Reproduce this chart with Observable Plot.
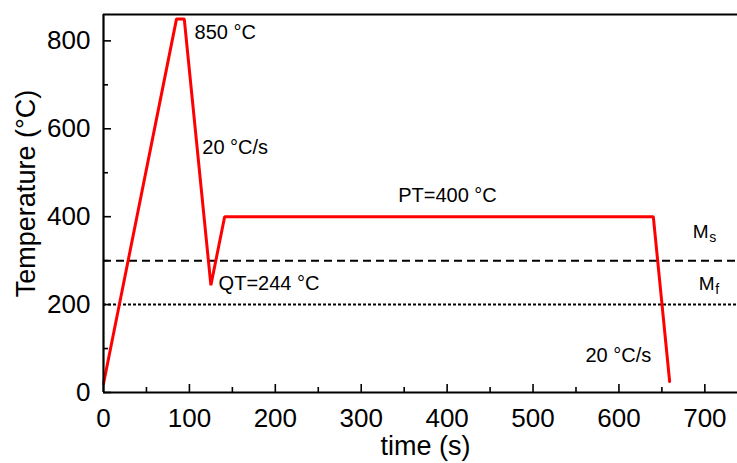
<!DOCTYPE html>
<html>
<head>
<meta charset="utf-8">
<script src="https://cdn.jsdelivr.net/npm/d3@7"></script>
<script src="https://cdn.jsdelivr.net/npm/@observablehq/plot@0.6"></script>
<style>
  html, body { margin: 0; padding: 0; background: #fff; }
</style>
</head>
<body>
<div id="chart"></div>
<script>
// Heat-treatment schedule: time (s) vs temperature (°C)
const time = [0, 85, 94, 125, 141, 640, 659];
const temp = [20, 850, 850, 244, 400, 400, 25];

// Martensite start / finish temperatures
const msTemp = 300;
const mfTemp = 200;

// Axis ticks
const xMajor = [0, 100, 200, 300, 400, 500, 600, 700];
const xMinor = [50, 150, 250, 350, 450, 550, 650];
const yMajor = [0, 200, 400, 600, 800];
const yMinor = [100, 300, 500, 700];

// Annotations
const noteText = ["850 °C", "20 °C/s", "PT=400 °C", "QT=244 °C", "20 °C/s"];
const noteTime = [106, 115, 343, 134, 561];
const noteTemp = [819, 558, 448, 248, 84];

const markLetter = ["M", "M"];
const markSub = ["s", "f"];
const markTime = [686, 693];
const markTemp = [366, 247];

const W = 737, H = 463;
const mL = 103, mR = 0, mT = 14, mB = 71;
const innerW = W - mL - mR, innerH = H - mT - mB;

const path = time.map((t, i) => ({t, T: temp[i]}));
const notes = noteText.map((s, i) => ({s, t: noteTime[i], T: noteTemp[i]}));
const mLabels = markLetter.map((m, i) => ({m, sub: markSub[i], t: markTime[i], T: markTemp[i]}));

const font = "Liberation Sans, Arial, sans-serif";

const chart = Plot.plot({
  width: W,
  height: H,
  marginLeft: mL,
  marginRight: mR,
  marginTop: mT,
  marginBottom: mB,
  style: {fontFamily: font, background: "#fff", color: "#000"},
  x: {domain: [0, 738], axis: null},
  y: {domain: [0, 860], axis: null},
  marks: [
    // Ms and Mf reference lines
    Plot.ruleY([msTemp], {stroke: "#000", strokeWidth: 2, strokeDasharray: "8,5"}),
    Plot.ruleY([mfTemp], {stroke: "#000", strokeWidth: 2, strokeDasharray: "3,2"}),
    // schedule curve
    Plot.line(path, {x: "t", y: "T", stroke: "#ff0000", strokeWidth: 3, strokeLinejoin: "miter"}),
    // inward ticks
    Plot.ruleX(xMajor, {x: d => d, insetTop: innerH - 8, stroke: "#000", strokeWidth: 1.6}),
    Plot.ruleX(xMinor, {x: d => d, insetTop: innerH - 5, stroke: "#000", strokeWidth: 1.6}),
    Plot.ruleY(yMajor, {y: d => d, insetRight: innerW - 8, stroke: "#000", strokeWidth: 1.6}),
    Plot.ruleY(yMinor, {y: d => d, insetRight: innerW - 5, stroke: "#000", strokeWidth: 1.6}),
    // frame: left, bottom, top
    Plot.ruleX([0], {stroke: "#000", strokeWidth: 2.2}),
    Plot.ruleY([0], {stroke: "#000", strokeWidth: 2.2}),
    Plot.ruleY([860], {stroke: "#000", strokeWidth: 2.2}),
    // tick labels
    Plot.text(xMajor, {x: d => d, frameAnchor: "bottom", lineAnchor: "top", dy: 16, fontSize: 26, fill: "#000", text: d => String(d)}),
    Plot.text(yMajor, {y: d => d, frameAnchor: "left", textAnchor: "end", dx: -13, fontSize: 26, fill: "#000", text: d => String(d)}),
    // axis titles
    Plot.text(["time (s)"], {frameAnchor: "bottom", lineAnchor: "middle", textAnchor: "middle", dx: 5, dy: 54, fontSize: 27, fill: "#000"}),
    Plot.text(["Temperature (°C)"], {frameAnchor: "left", textAnchor: "middle", lineAnchor: "middle", rotate: -90, dx: -77, dy: -10, fontSize: 27, fill: "#000"}),
    // annotations
    Plot.text(notes, {x: "t", y: "T", text: "s", textAnchor: "start", fontSize: 20, fill: "#000"}),
    Plot.text(mLabels, {x: "t", y: "T", text: "m", textAnchor: "start", fontSize: 19, fill: "#000"}),
    Plot.text(mLabels, {x: "t", y: "T", text: "sub", textAnchor: "start", dx: 16.5, dy: 6, fontSize: 14, fill: "#000"})
  ]
});

document.getElementById("chart").appendChild(chart);
</script>
</body>
</html>
